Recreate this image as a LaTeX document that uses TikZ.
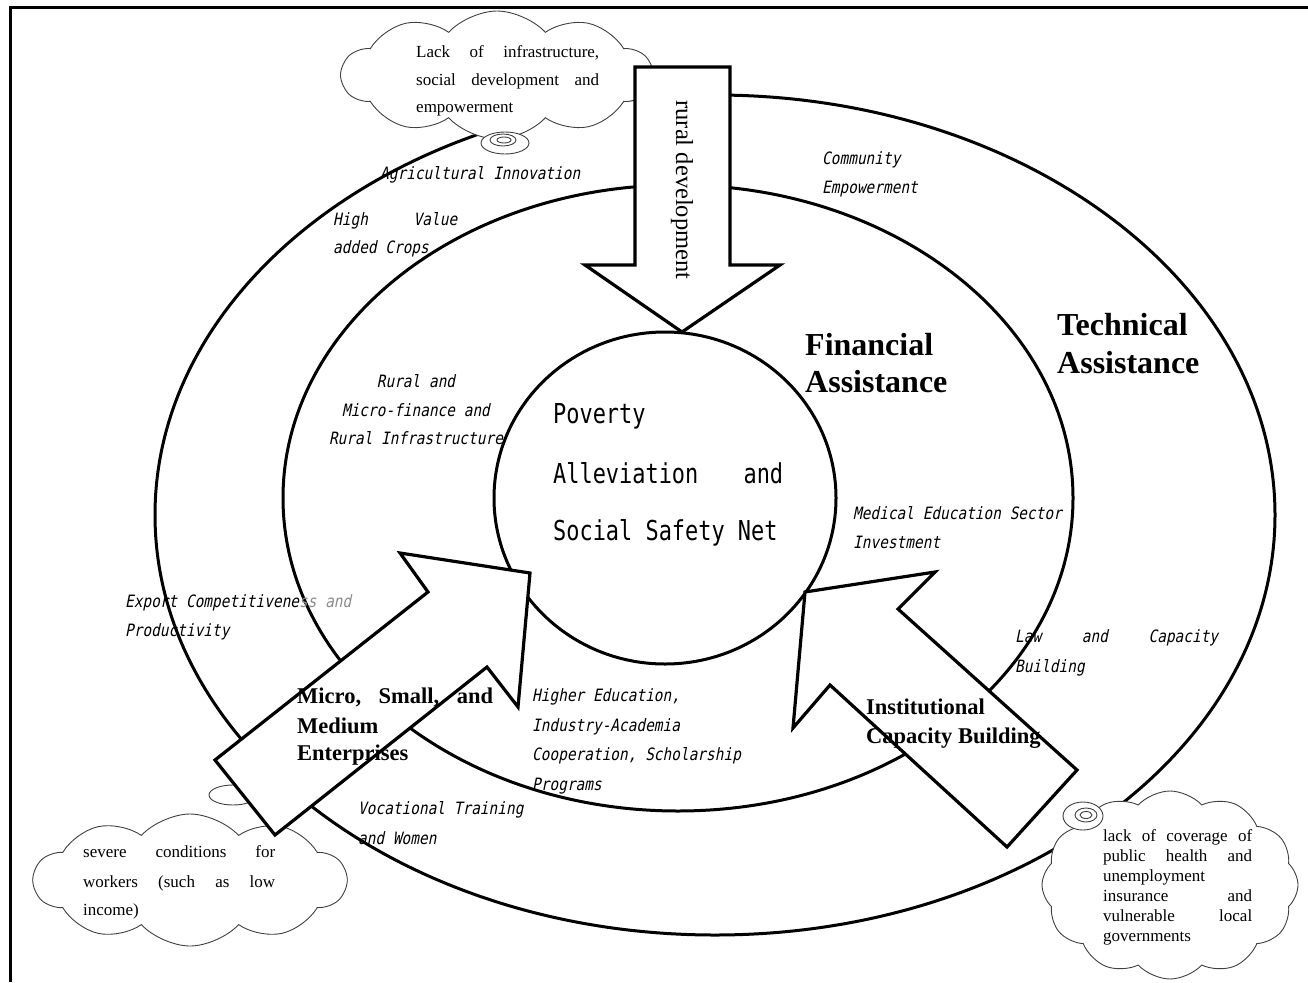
\documentclass[tikz,border=0pt]{standalone}
\usepackage{fontspec}
\setmainfont{Liberation Serif}
\newfontfamily\goth[FakeStretch=0.8]{DejaVu Sans Mono}
\newfontfamily\gothit[FakeStretch=0.85,FakeSlant=0.2]{DejaVu Sans Mono}
\usetikzlibrary{shapes.symbols,shapes.geometric}
\tikzset{
  ringline/.style={ellipse, draw, line width=3pt, inner sep=0pt},
  bigarrow/.style={draw, fill=white, line width=3.2pt, line join=miter},
  cloudsh/.style={cloud, cloud puffs=10, cloud puff arc=95, cloud ignores aspect, draw=black!75, fill=white, line width=0.9pt, inner sep=0pt},
  tailring/.style={draw=black!75, line width=0.9pt, fill=white},
  lab/.style={font=\gothit\fontsize{17}{20}\selectfont, inner sep=0pt, anchor=base west},
  pov/.style={font=\goth\fontsize{27.4}{30}\selectfont, inner sep=0pt, anchor=base west},
  bigtxt/.style={font=\bfseries\fontsize{32}{37}\selectfont, inner sep=0pt, anchor=base west},
  midtxt/.style={font=\bfseries\fontsize{22.5}{29}\selectfont, inner sep=0pt, anchor=base west},
  ctext/.style={font=\fontsize{17}{20}\selectfont, inner sep=0pt, anchor=base west},
}
\begin{document}
\begin{tikzpicture}[x=1pt,y=-1pt]
\useasboundingbox (0,0) rectangle (1308,982);
% frame
\coordinate (ftr) at (1308,8);
\coordinate (ftl) at (10,8);
\coordinate (fbl) at (10,982);
\draw[line width=3pt] (ftr) -- (ftl) -- (fbl);

% rings
\node[ringline, minimum width=1120pt, minimum height=840pt] (outer) at (715,515) {};
\node[ringline, minimum width=790pt, minimum height=626pt] (middle) at (678,498) {};
\node[ringline, minimum width=342pt, minimum height=332pt, fill=white] (core) at (665,498) {};

% clouds
\node[cloudsh, minimum width=310pt, minimum height=128pt] (cloudA) at (497,75) {};
\node[cloudsh, minimum width=312pt, minimum height=132pt] (cloudB) at (190,880) {};
\node[cloudsh, minimum width=256pt, minimum height=188pt, cloud puffs=12] (cloudC) at (1170,885) {};

% cloud tails
\draw[tailring] (505,143) ellipse [x radius=24, y radius=11];
\draw[tailring] (503,140) ellipse [x radius=13, y radius=6];
\draw[tailring] (504,140) ellipse [x radius=7, y radius=3];
\draw[tailring] (233,795) ellipse [x radius=24, y radius=10];
\draw[tailring] (1083,816) ellipse [x radius=20, y radius=14];
\draw[tailring] (1086,815) ellipse [x radius=11, y radius=7];
\draw[tailring] (1086,815) ellipse [x radius=6, y radius=3.5];

% cloud texts
\node[ctext] (a1) at (416,58) {\makebox[183pt]{Lack\hfill of\hfill infrastructure,}};
\node[ctext] (a2) at (416,85) {\makebox[183pt]{social\hfill development\hfill and}};
\node[ctext] (a3) at (416,112) {empowerment};
\node[ctext] (b1) at (83,857) {\makebox[192pt]{severe\hfill conditions\hfill for}};
\node[ctext] (b2) at (83,887) {\makebox[192pt]{workers\hfill (such\hfill as\hfill low}};
\node[ctext] (b3) at (83,915) {income)};
\node[ctext] (c1) at (1103,841) {\makebox[149pt]{lack\hfill of\hfill coverage\hfill of}};
\node[ctext] (c2) at (1103,861) {\makebox[149pt]{public\hfill health\hfill and}};
\node[ctext] (c3) at (1103,881) {unemployment};
\node[ctext] (c4) at (1103,901) {\makebox[149pt]{insurance\hfill and}};
\node[ctext] (c5) at (1103,921) {\makebox[149pt]{vulnerable\hfill local}};
\node[ctext] (c6) at (1103,941) {governments};

% italic labels
\node[lab] (agri) at (380,179) {Agricultural Innovation};
\node[lab] (hv1) at (333,225) {\makebox[124pt]{High\hfill Value}};
\node[lab] (hv2) at (333,253) {added Crops};
\node[lab] (ce1) at (822,164) {Community};
\node[lab] (ce2) at (822,193) {Empowerment};
\node[lab, anchor=base] (rm1) at (416,387) {Rural and};
\node[lab, anchor=base] (rm2) at (416,416) {Micro-finance and};
\node[lab, anchor=base] (rm3) at (416,444) {Rural Infrastructure};
\node[lab] (me1) at (853,519) {Medical Education Sector};
\node[lab] (me2) at (853,548) {Investment};
\node[lab] (lc1) at (1015,642) {\makebox[203pt]{Law\hfill and\hfill Capacity}};
\node[lab] (lc2) at (1015,672) {Building};
\node[lab] (he1) at (532,701) {Higher Education,};
\node[lab] (he2) at (532,731) {Industry-Academia};
\node[lab] (he3) at (532,760) {Cooperation, Scholarship};
\node[lab] (he4) at (532,790) {Programs};
\node[lab] (vt1) at (358,814) {Vocational Training};
\node[lab] (vt2) at (358,844) {and Women};

% core text
\node[pov] (p1) at (553,423) {Poverty};
\node[pov] (p2) at (553,483) {\makebox[230pt]{Alleviation\hfill and}};
\node[pov] (p3) at (553,540) {Social Safety Net};

% bold labels
\node[bigtxt] (fa1) at (805,355) {Financial};
\node[bigtxt] (fa2) at (805,392) {Assistance};
\node[bigtxt] (ta1) at (1057,335) {Technical};
\node[bigtxt] (ta2) at (1057,373) {Assistance};

% big arrows
\draw[bigarrow] (635,67) -- (730,67) -- (730,265) -- (780,265) -- (682,332) -- (585,265) -- (635,265) -- cycle;
\draw[bigarrow] (215,760) -- (428,592) -- (400,553) -- (530,573) -- (518,707) -- (487,667) -- (275,835) -- cycle;
\draw[bigarrow] (805,592) -- (935,572) -- (898,609) -- (1077,770) -- (1007,847) -- (830,685) -- (793,728) -- cycle;

\node[font=\fontsize{24.5}{28}\selectfont, rotate=-90, inner sep=0pt] (rd) at (682,190) {rural development};

\node[lab] (ex1) at (125,607) {Export Competitivene\textcolor{black!45}{ss and}};
\node[lab] (ex2) at (125,636) {Productivity};

\node[midtxt] (ms1) at (297,703) {\makebox[196pt]{Micro,\hfill Small,\hfill and}};
\node[midtxt] (ms2) at (297,733) {Medium};
\node[midtxt] (ms3) at (297,760) {Enterprises};
\node[midtxt] (ic1) at (866,714) {Institutional};
\node[midtxt] (ic2) at (866,743) {Capacity Building};
\end{tikzpicture}
\end{document}
